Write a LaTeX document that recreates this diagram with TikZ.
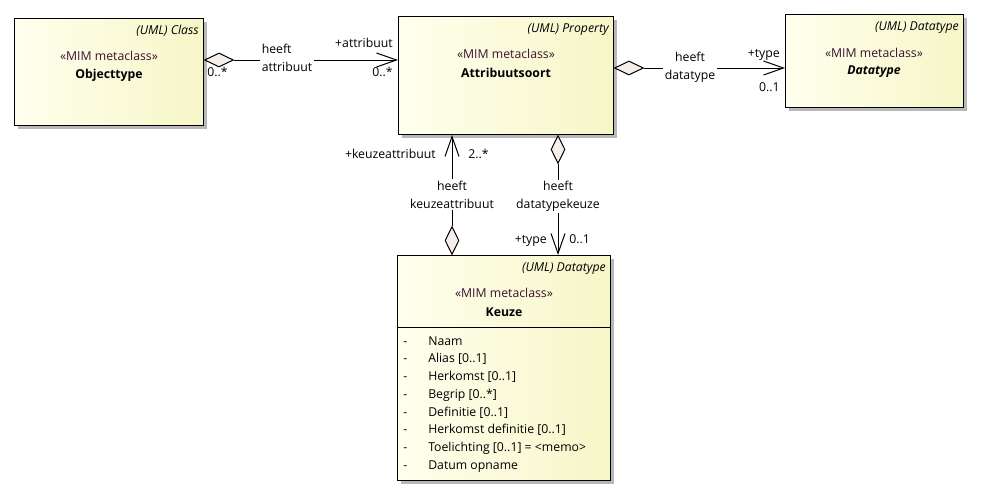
\documentclass[tikz,border=0pt]{standalone}
\usepackage{fontspec}
\setmainfont{Open Sans}
\usetikzlibrary{arrows.meta,shapes.geometric,shadows,calc}
\definecolor{boxl}{HTML}{FFFFEE}
\definecolor{boxr}{HTML}{F6F6C8}
\definecolor{dfill}{HTML}{F6EEEA}
\definecolor{stereo}{HTML}{3A1230}
\begin{document}
\begin{tikzpicture}[x=0.75pt,y=-0.75pt,
  font=\fontsize{9.2}{13.5}\selectfont,
  umlbox/.style={draw=black, line width=0.75pt, left color=boxl, right color=boxr,
    anchor=north west, inner sep=0,
    drop shadow={shadow xshift=2.25pt, shadow yshift=-2.25pt, fill=black!28, opacity=1}},
  txt/.style={inner sep=0, anchor=base},
  txtl/.style={inner sep=0, anchor=base west},
  txtr/.style={inner sep=0, anchor=base east},
  umlkind/.style={txtr, font=\fontsize{9.2}{13.5}\selectfont\itshape},
  stereotype/.style={txt, text=stereo},
  cname/.style={txt, font=\fontsize{9.2}{13.5}\selectfont\bfseries},
  agg/.style={diamond, draw=black, line width=0.75pt, fill=dfill, inner sep=0, aspect=2},
  aggh/.style={agg, minimum width=29*0.75pt, minimum height=14*0.75pt},
  aggv/.style={agg, aspect=0.5, minimum width=14*0.75pt, minimum height=28*0.75pt},
  assoc/.style={draw=black, line width=0.75pt, -{Straight Barb[length=15pt, width=10.5pt, line width=0.75pt]}},
  rolelabel/.style={fill=white, inner xsep=1.5pt, inner ysep=1pt, align=center},
  mult/.style={inner sep=0}
]
\useasboundingbox (0,0) rectangle (982,496);

% ---------- boxes ----------
\node[umlbox, minimum width=189*0.75pt, minimum height=107*0.75pt] (obj) at (14,18) {};
\node[umlbox, minimum width=215*0.75pt, minimum height=118*0.75pt] (attr) at (398,16) {};
\node[umlbox, minimum width=178*0.75pt, minimum height=93*0.75pt] (dt) at (785,14) {};
\node[umlbox, minimum width=213*0.75pt, minimum height=225*0.75pt] (keuze) at (397,255) {};
\draw[line width=0.75pt] ($(keuze.north west)+(0,72)$) coordinate (kdl) -- (kdl -| keuze.east) coordinate (kdr);

% ---------- box texts ----------
\node[umlkind] (objk) at (199,34.5) {(UML) Class};
\node[stereotype] (objs) at (109,60.5) {«MIM metaclass»};
\node[cname] (objn) at (109,78) {Objecttype};

\node[umlkind] (attrk) at (609,32) {(UML) Property};
\node[stereotype] (attrs) at (506,58) {«MIM metaclass»};
\node[cname] (attrn) at (506,77) {Attribuutsoort};

\node[umlkind] (dtk) at (959,30) {(UML) Datatype};
\node[stereotype] (dts) at (874,57) {«MIM metaclass»};
\node[cname, font=\fontsize{9.2}{13.5}\selectfont\bfseries\itshape] (dtn) at (874,74) {Datatype};

\node[umlkind] (kk) at (606,271) {(UML) Datatype};
\node[stereotype] (ks) at (504,297) {«MIM metaclass»};
\node[cname] (kn) at (504,316) {Keuze};

\foreach \t [count=\i] in {Naam, Alias [0..1], Herkomst [0..1], Begrip [0..*], Definitie [0..1],
    Herkomst definitie [0..1], Toelichting [0..1] = <memo>, Datum opname} {
  \node[txtl] (ad\i) at (403, 327.5+17.7*\i) {-};
  \node[txtl] (at\i) at (428, 327.5+17.7*\i) {\t};
}

% ---------- connector 1: Objecttype -> Attribuutsoort ----------
\node[aggh, anchor=west] (d1) at ($(obj.north east)+(0,42)$) {};
\coordinate (e1) at ($(attr.north west)+(0,44)$);
\draw[assoc] (d1.east) -- (e1);
\node[rolelabel, align=left] (l1) at (287,58) {heeft\\attribuut};
\node[mult, anchor=base west] (m1a) at (207,76) {0..*};
\node[mult, anchor=base east] (r1) at (393,47) {+attribuut};
\node[mult, anchor=base east] (m1b) at (393,76) {0..*};

% ---------- connector 2: Attribuutsoort -> Datatype ----------
\node[aggh, anchor=west] (d2) at ($(attr.north east)+(0,52)$) {};
\coordinate (e2) at ($(dt.north west)+(0,54)$);
\draw[assoc] (d2.east) -- (e2);
\node[rolelabel] (l2) at (690,67.5) {heeft\\datatype};
\node[mult, anchor=base east] (r2) at (780,57) {+type};
\node[mult, anchor=base east] (m2) at (780,91) {0..1};

% ---------- connector 3: Keuze -> Attribuutsoort ----------
\node[aggv, anchor=south] (d3) at ($(keuze.north west)+(55,0)$) {};
\coordinate (e3) at ($(attr.south west)+(54,0)$);
\draw[assoc] (d3.north) -- (e3);
\node[rolelabel] (l3) at (452,194.5) {heeft\\keuzeattribuut};
\node[mult, anchor=base east] (r3) at (436,158) {+keuzeattribuut};
\node[mult, anchor=base west] (m3) at (468,158) {2..*};

% ---------- connector 4: Attribuutsoort -> Keuze ----------
\node[aggv, anchor=north] (d4) at ($(attr.south west)+(160,0)$) {};
\coordinate (e4) at ($(keuze.north west)+(161,0)$);
\draw[assoc] (d4.south) -- (e4);
\node[rolelabel] (l4) at (558,196) {heeft\\datatypekeuze};
\node[mult, anchor=base east] (r4) at (547,243) {+type};
\node[mult, anchor=base west] (m4) at (569,243) {0..1};
\end{tikzpicture}
\end{document}
